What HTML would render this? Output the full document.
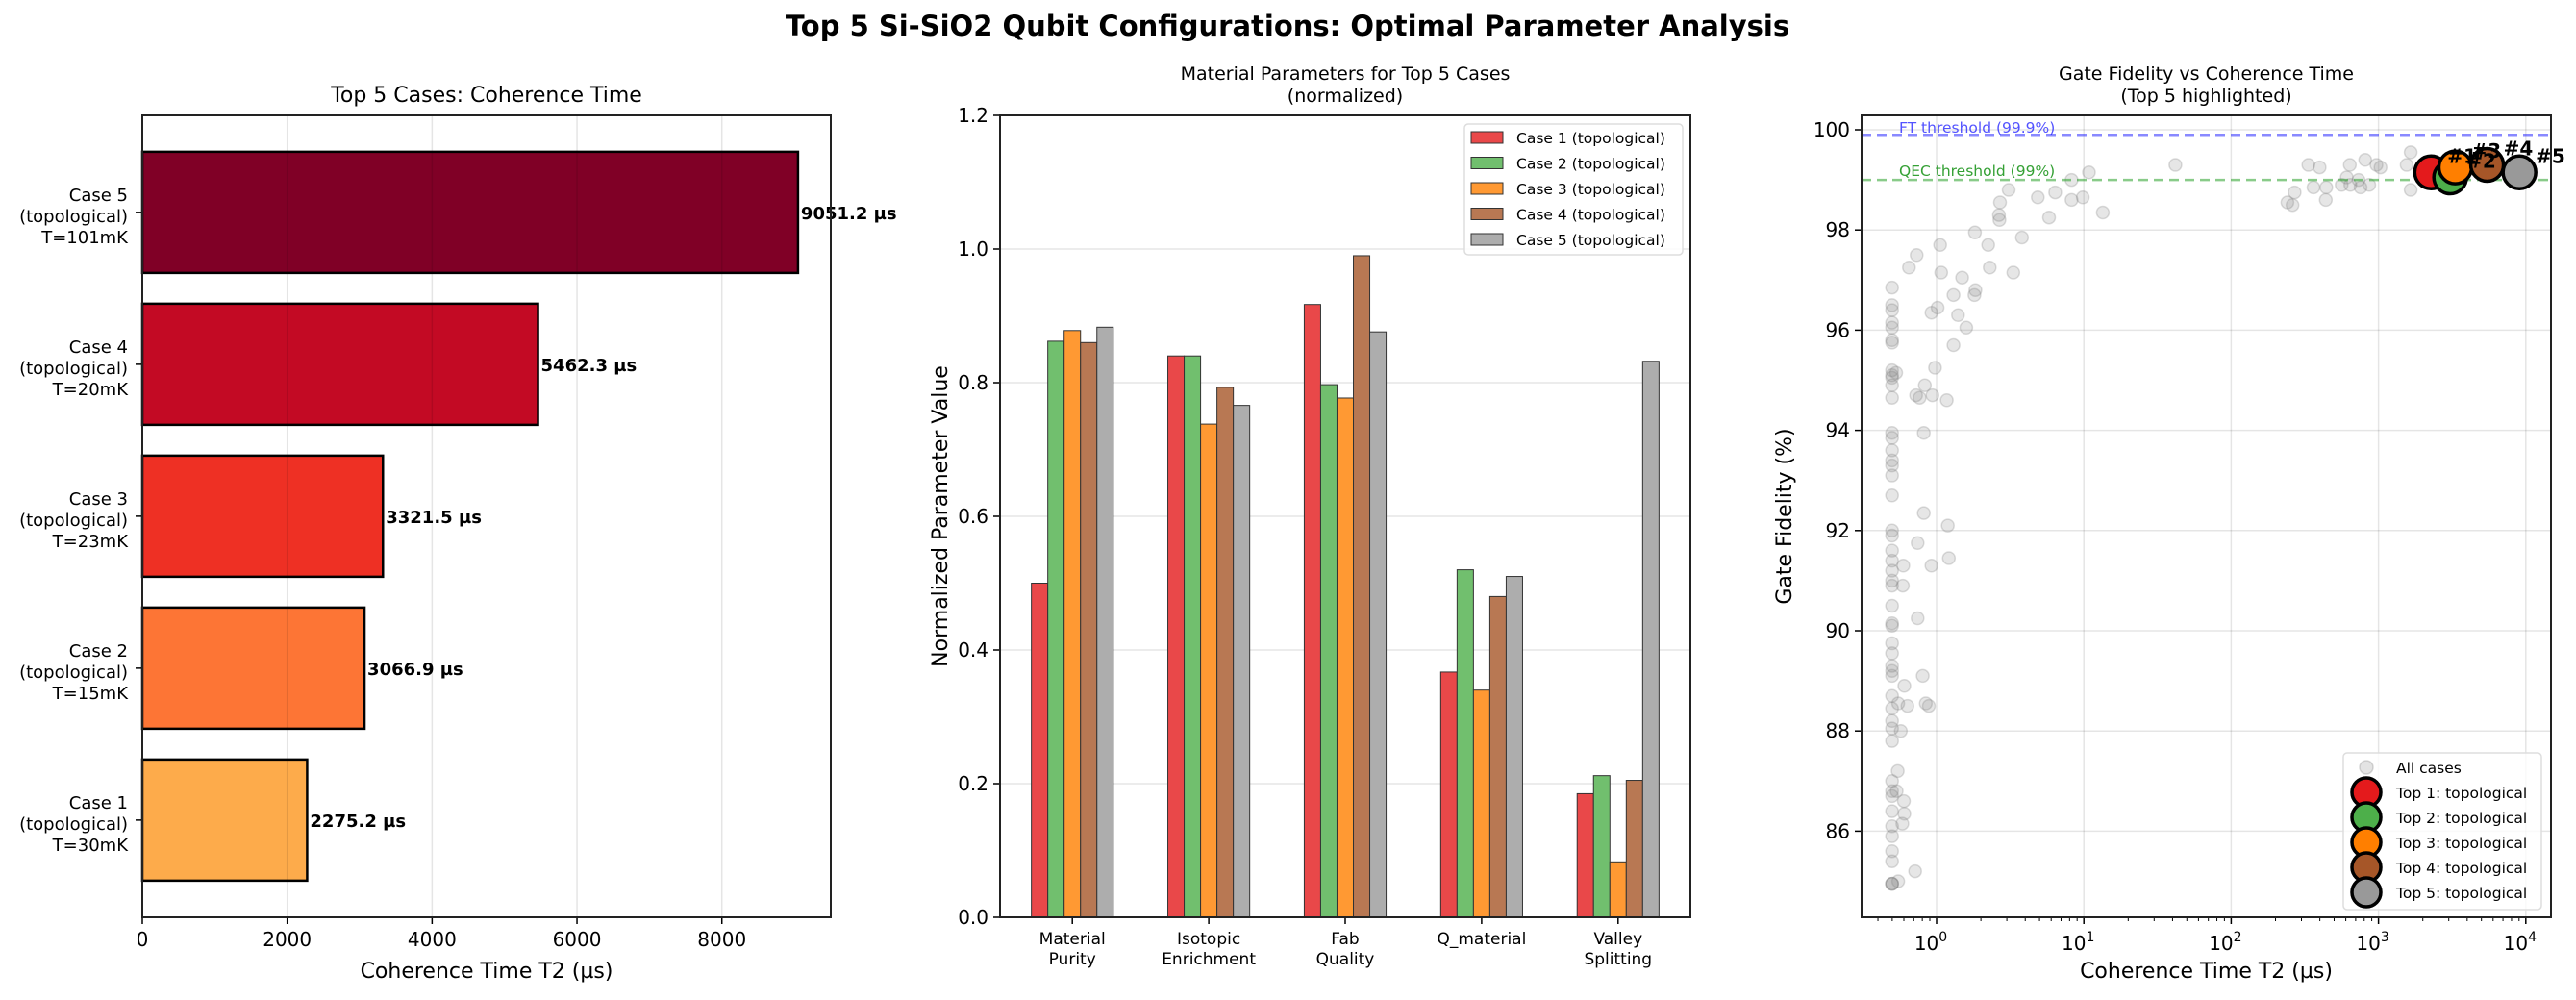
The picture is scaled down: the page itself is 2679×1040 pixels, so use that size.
<!DOCTYPE html>
<html><head><meta charset="utf-8"><style>
html,body{margin:0;padding:0;background:#fff;}
svg{display:block;font-family:"DejaVu Sans","Liberation Sans",sans-serif;}
</style></head><body>
<svg id="s" width="2679" height="1040" viewBox="0 0 2679 1040" xmlns="http://www.w3.org/2000/svg">
<rect width="2679" height="1040" fill="#fff"/>
<text x="1339" y="37" text-anchor="middle" font-size="29" font-weight="bold">Top 5 Si-SiO2 Qubit Configurations: Optimal Parameter Analysis</text>
<g id="g"></g>
</svg>
<script>
(function(){
var g=document.getElementById('g');var h='';
function t(x,y,s,fs,o){o=o||{};h+='<text x="'+x+'" y="'+y+'" font-size="'+fs+'"'+(o.a?' text-anchor="'+o.a+'"':'')+(o.b?' font-weight="bold"':'')+(o.f?' fill="'+o.f+'"':'')+(o.r?' transform="rotate(-90 '+x+' '+y+')"':'')+'>'+s+'</text>';}
function L(x1,y1,x2,y2,c,w,d){h+='<line x1="'+x1+'" y1="'+y1+'" x2="'+x2+'" y2="'+y2+'" stroke="'+c+'" stroke-width="'+w+'"'+(d?' stroke-dasharray="'+d+'"':'')+'/>';}
function R(x,y,w,hh,f,s,sw){h+='<rect x="'+x+'" y="'+y+'" width="'+w+'" height="'+hh+'" fill="'+f+'"'+(s?' stroke="'+s+'" stroke-width="'+sw+'"':'')+'/>';}
var T0=120,bot=954;
// Panel 1
var p1l=148,p1r=864,sx=(p1r-p1l)/9503.5;
t((p1l+p1r)/2,106,'Top 5 Cases: Coherence Time',22,{a:'middle'});
var vals=[2275.2,3066.9,3321.5,5462.3,9051.2],cols=['#fdab4b','#fd7535','#ee3024','#c30a24','#800026'],temps=['30','15','23','20','101'];
for(var i=0;i<5;i++){var cy=954-(i+0.64)*158;R(p1l,cy-63,vals[i]*sx,126,cols[i],'#000',2.5);
t(p1l+vals[i]*sx+3,cy+7,vals[i].toFixed(1)+' µs',18,{b:1});
t(133,cy-12,'Case '+(i+1),18,{a:'end'});t(133,cy+10,'(topological)',18,{a:'end'});t(133,cy+32,'T='+temps[i]+'mK',18,{a:'end'});
L(141,cy,148,cy,'#000',1.5);}
for(var v=0;v<=8000;v+=2000){var x=p1l+v*sx;L(x,T0,x,bot,'rgba(0,0,0,0.1)',1.5);L(x,bot,x,bot+7,'#000',1.5);t(x,bot+30,v,20,{a:'middle'});}
R(p1l,T0,p1r-p1l,bot-T0,'none','#222',2);
t((p1l+p1r)/2,1017,'Coherence Time T2 (µs)',22,{a:'middle'});
// Panel 2
var p2l=1040,p2r=1758,ux=(p2r-p2l)/5.06,bw=0.12;function X2(v){return p2l+(v+0.53)*ux}function Y2(v){return bot-v*695}
t((p2l+p2r)/2,83,'Material Parameters for Top 5 Cases',19,{a:'middle'});t((p2l+p2r)/2,106,'(normalized)',19,{a:'middle'});
for(var v=0;v<=1.2001;v+=0.2){var y=Y2(v);if(v>0.01&&v<1.19)L(p2l,y,p2r,y,'rgba(0,0,0,0.1)',1.5);L(p2l-7,y,p2l,y,'#000',1.5);t(p2l-12,y+7,v.toFixed(1),20,{a:'end'});}
var d=[[.50,.862,.878,.86,.883],[.84,.84,.738,.793,.766],[.917,.797,.777,.99,.876],[.367,.52,.34,.48,.51],[.185,.212,.083,.205,.832]];
var c2=['#e94849','#71bf6e','#ff9933','#b87853','#adadad'];
var names=[['Material','Purity'],['Isotopic','Enrichment'],['Fab','Quality'],['Q_material',''],['Valley','Splitting']];
for(var i=0;i<5;i++){for(var j=0;j<5;j++){var x=X2(i+(j-2)*bw-bw/2);R(x,Y2(d[i][j]),bw*ux,d[i][j]*695,c2[j],'#333',1);}
var xc=X2(i);L(xc,bot,xc,bot+7,'#000',1.5);t(xc,bot+28,names[i][0],17,{a:'middle'});t(xc,bot+49,names[i][1],17,{a:'middle'});}
R(p2l,T0,p2r-p2l,bot-T0,'none','#222',2);
t(985,537,'Normalized Parameter Value',22,{a:'middle',r:1});
h+='<rect x="1523" y="129" width="227" height="136" rx="4" fill="rgba(255,255,255,0.8)" stroke="#ddd" stroke-width="1.5"/>';
for(var j=0;j<5;j++){var y=143+j*26.5;R(1530,y-6,33,12,c2[j],'#333',1);t(1577,y+6,'Case '+(j+1)+' (topological)',15.5);}
// Panel 3
var p3l=1936,p3r=2653;function X3(l){return 2014+l*153.2}function Y3(f){return 135+(100-f)*52.1}
t((p3l+p3r)/2,83,'Gate Fidelity vs Coherence Time',19,{a:'middle'});t((p3l+p3r)/2,106,'(Top 5 highlighted)',19,{a:'middle'});
for(var f=86;f<=100;f+=2){var y=Y3(f);L(p3l,y,p3r,y,'rgba(0,0,0,0.1)',1.5);L(p3l-7,y,p3l,y,'#000',1.5);t(p3l-12,y+7,f,20,{a:'end'});}
for(var e=0;e<=4;e++){var x=X3(e);L(x,T0,x,bot,'rgba(0,0,0,0.1)',1.5);L(x,bot,x,bot+7,'#000',1.5);h+='<text x="'+(x-6)+'" y="'+(bot+34)+'" font-size="20" text-anchor="middle">10<tspan dy="-9" font-size="14">'+e+'</tspan></text>';}
for(var e=-1;e<=4;e++)for(var k=2;k<=9;k++){var x=X3(e+Math.log10(k));if(x>p3l&&x<p3r)L(x,bot,x,bot+4,'#000',1);}
var col=[96.85,96.5,96.4,96.15,96.05,95.8,95.75,95.2,95.1,95.05,94.9,94.65,93.95,93.85,93.6,93.4,93.3,93.1,92.7,92.0,91.9,91.6,91.4,91.2,91.0,90.9,90.5,90.15,90.1,89.75,89.55,89.3,89.2,89.1,88.7,88.45,88.2,88.05,87.8,87.0,86.8,86.7,86.4,86.1,85.9,85.6,85.4,84.95,84.95,84.95];
var pts=[];col.forEach(function(f){pts.push([241,f])});
pts=pts.concat([[249,95.15],[274,97.25],[289,97.5],[335,97.7],[337,97.15],[378,97.05],[318,96.35],[330,96.45],[361,96.7],[370,96.3],[386,96.05],[404,96.8],[402,96.7],[403,97.95],[429,97.7],[432,97.25],[451,98.2],[452,98.55],[450,98.3],[469,98.8],[478,97.15],[495,97.85],[526,98.65],[548,98.25],[560,98.75],[592,98.6],[592,99.0],[614,98.65],[626,99.15],[653,98.35],[795,99.3],[325,95.25],[361,95.7],[305,94.9],[288,94.7],[295,94.65],[320,94.7],[348,94.6],[303,93.95],[303,92.35],[350,92.1],[291,91.75],[263,91.3],[318,91.3],[352,91.45],[262,90.9],[291,90.25],[301,89.1],[265,88.9],[253,88.55],[271,88.5],[307,88.55],[313,88.5],[258,88.0],[252,87.2],[250,86.8],[264,86.6],[265,86.35],[261,86.15],[286,85.2],[253,85.0],[1014,98.55],[1024,98.5],[1028,98.75],[1055,99.3],[1065,98.85],[1077,99.25],[1089,98.6],[1090,98.85],[1120,98.9],[1130,99.05],[1136,99.3],[1137,98.9],[1153,99.0],[1157,98.85],[1166,99.4],[1174,98.9],[1188,99.3],[1196,99.25],[1247,99.3],[1255,99.55],[1255,98.8]]);
pts.forEach(function(p){h+='<circle cx="'+X3((p[0]-328)/288).toFixed(1)+'" cy="'+Y3(p[1]).toFixed(1)+'" r="6.5" fill="rgba(128,128,128,0.2)" stroke="rgba(128,128,128,0.28)" stroke-width="1.5"/>';});
L(p3l,Y3(99.9),p3r,Y3(99.9),'rgba(40,40,255,0.55)',2.5,'10,6');L(p3l,Y3(99),p3r,Y3(99),'rgba(40,160,40,0.55)',2.5,'10,6');
t(1975,138,'FT threshold (99.9%)',15.5,{f:'rgba(40,40,255,0.8)'});t(1975,183,'QEC threshold (99%)',15.5,{f:'rgba(30,150,30,0.9)'});
var tv=[[2275.2,99.15,'#e41a1c'],[3066.9,99.05,'#4daf4a'],[3321.5,99.25,'#ff7f00'],[5462.3,99.3,'#a65628'],[9051.2,99.15,'#999999']];
tv.forEach(function(p,i){var x=X3(Math.log10(p[0])),y=Y3(p[1]);h+='<circle cx="'+x+'" cy="'+y+'" r="17" fill="'+p[2]+'" stroke="#000" stroke-width="3.5"/>';});
tv.forEach(function(p,i){var x=X3(Math.log10(p[0])),y=Y3(p[1]);t(x+17,y-10,'#'+(i+1),20,{b:1});});
R(p3l,T0,p3r-p3l,bot-T0,'none','#222',2);
t((p3l+p3r)/2,1017,'Coherence Time T2 (µs)',22,{a:'middle'});
t(1863,537,'Gate Fidelity (%)',22,{a:'middle',r:1});
h+='<rect x="2437" y="783" width="206" height="163" rx="4" fill="rgba(255,255,255,0.8)" stroke="#ddd" stroke-width="1.5"/>';
h+='<circle cx="2461" cy="798" r="7" fill="rgba(128,128,128,0.22)" stroke="rgba(128,128,128,0.3)" stroke-width="1.5"/>';t(2492,804,'All cases',15.5);
for(var j=0;j<5;j++){var y=824+j*26;h+='<circle cx="2461" cy="'+y+'" r="15" fill="'+tv[j][2]+'" stroke="#000" stroke-width="3.5"/>';t(2492,y+6,'Top '+(j+1)+': topological',15.5);}
g.innerHTML=h;
})();
</script>
</body></html>
